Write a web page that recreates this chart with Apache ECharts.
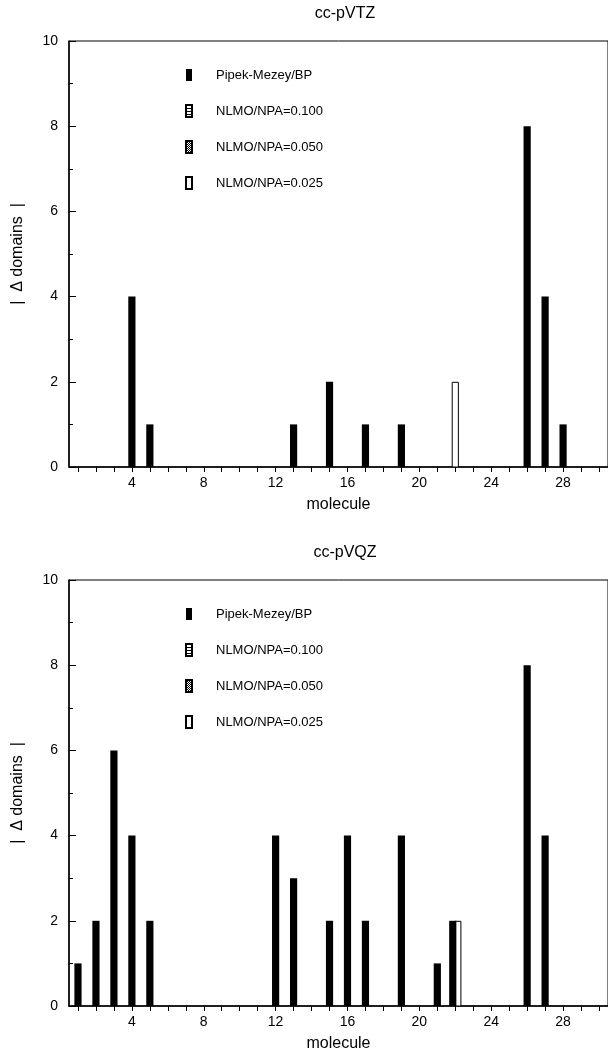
<!DOCTYPE html>
<html>
<head>
<meta charset="utf-8">
<script src="https://cdn.jsdelivr.net/npm/echarts@6/dist/echarts.min.js"></script>
<style>
  html, body { margin: 0; padding: 0; background: #fff; }
  #chart { width: 608px; height: 1059px; }
</style>
</head>
<body>
<div id="chart"></div>
<script>
// molecule index along the x axis
const molecules = [1, 2, 3, 4, 5, 6, 7, 8, 9, 10, 11, 12, 13, 14, 15, 16, 17, 18, 19, 20, 21, 22, 23, 24, 25, 26, 27, 28, 29];

// |Δ domains| per molecule, cc-pVTZ
const tzPipek  = [0, 0, 0, 4, 1, 0, 0, 0, 0, 0, 0, 0, 1, 0, 2, 0, 1, 0, 1, 0, 0, 0, 0, 0, 0, 8, 4, 1, 0];
const tzNpa100 = [0, 0, 0, 0, 0, 0, 0, 0, 0, 0, 0, 0, 0, 0, 0, 0, 0, 0, 0, 0, 0, 0, 0, 0, 0, 0, 0, 0, 0];
const tzNpa050 = [0, 0, 0, 0, 0, 0, 0, 0, 0, 0, 0, 0, 0, 0, 0, 0, 0, 0, 0, 0, 0, 0, 0, 0, 0, 0, 0, 0, 0];
const tzNpa025 = [0, 0, 0, 0, 0, 0, 0, 0, 0, 0, 0, 0, 0, 0, 0, 0, 0, 0, 0, 0, 0, 2, 0, 0, 0, 0, 0, 0, 0];

// |Δ domains| per molecule, cc-pVQZ
const qzPipek  = [1, 2, 6, 4, 2, 0, 0, 0, 0, 0, 0, 4, 3, 0, 2, 4, 2, 0, 4, 0, 1, 2, 0, 0, 0, 8, 4, 0, 0];
const qzNpa100 = [0, 0, 0, 0, 0, 0, 0, 0, 0, 0, 0, 0, 0, 0, 0, 0, 0, 0, 0, 0, 0, 0, 0, 0, 0, 0, 0, 0, 0];
const qzNpa050 = [0, 0, 0, 0, 0, 0, 0, 0, 0, 0, 0, 0, 0, 0, 0, 0, 0, 0, 0, 0, 0, 0, 0, 0, 0, 0, 0, 0, 0];
const qzNpa025 = [0, 0, 0, 0, 0, 0, 0, 0, 0, 0, 0, 0, 0, 0, 0, 0, 0, 0, 0, 0, 0, 2, 0, 0, 0, 0, 0, 0, 0];

const seriesNames = ['Pipek-Mezey/BP', 'NLMO/NPA=0.100', 'NLMO/NPA=0.050', 'NLMO/NPA=0.025'];
const basisTitles = ['cc-pVTZ', 'cc-pVQZ'];
const xTickValues = [1, 2, 3, 4, 5, 6, 7, 8, 9, 10, 11, 12, 13, 14, 15, 16, 17, 18, 19, 20, 21, 22, 23, 24, 25, 26, 27, 28, 29, 30];
const xLabelValues = [4, 8, 12, 16, 20, 24, 28];

const groups = [
  [tzPipek, tzNpa100, tzNpa050, tzNpa025],
  [qzPipek, qzNpa100, qzNpa050, qzNpa025]
];

// fill patterns for the hatched series
function makePattern(kind) {
  const c = document.createElement('canvas');
  c.width = 2; c.height = kind === 'stripe' ? 3 : 2;
  const g = c.getContext('2d');
  g.fillStyle = '#fff';
  g.fillRect(0, 0, c.width, c.height);
  g.fillStyle = '#000';
  if (kind === 'stripe') {
    g.fillRect(0, 0, 2, 1);
  } else {
    g.fillRect(0, 0, 1, 1);
    g.fillRect(1, 1, 1, 1);
  }
  return { image: c, repeat: 'repeat' };
}

const seriesStyles = [
  { color: '#000', borderColor: '#000', borderWidth: 0 },
  { color: makePattern('stripe'), borderColor: '#000', borderWidth: 1 },
  { color: makePattern('dots'), borderColor: '#000', borderWidth: 1 },
  { color: '#fff', borderColor: '#000', borderWidth: 1 }
];

const BAR_UNITS = 0.4;

function barRenderer(gi, si) {
  return function (params, api) {
    const x = api.value(0);
    const y = api.value(1);
    const idx = molecules.indexOf(x);
    // bars sharing a molecule are shifted apart and overlap slightly
    const active = [];
    groups[gi].forEach((arr, k) => { if (arr[idx] > 0) active.push(k); });
    const slot = active.indexOf(si);
    const n = active.length;
    const w = api.size([BAR_UNITS, 0])[0];
    const shift = (slot - (n - 1) / 2) * 0.7 * w;
    const top = api.coord([x, y]);
    const base = api.coord([x, 0]);
    const lw = seriesStyles[si].borderWidth;
    return {
      type: 'rect',
      shape: {
        x: top[0] - w / 2 + shift + lw / 2,
        y: top[1] + lw / 2,
        width: w - lw,
        height: base[1] - top[1] - lw / 2
      },
      style: {
        fill: seriesStyles[si].color,
        stroke: lw ? '#000' : null,
        lineWidth: lw
      }
    };
  };
}

const gridTops = [41, 580];
const GRID_H = 426;
const FONT = '"Liberation Sans", Arial, sans-serif';

const option = {
  animation: false,
  backgroundColor: '#fff',
  textStyle: { fontFamily: FONT, color: '#000' },
  title: basisTitles.map((t, i) => ({
    text: t,
    left: 340,
    textAlign: 'center',
    top: gridTops[i] - 40,
    textStyle: { fontFamily: FONT, fontSize: 16, fontWeight: 'normal', color: '#000' }
  })),
  legend: gridTops.map((t, i) => ({
    data: seriesNames,
    orient: 'vertical',
    left: 185,
    top: t + 27,
    padding: 0,
    itemWidth: 6,
    itemHeight: 12,
    itemGap: 22,
    icon: 'rect',
    selectedMode: false,
    textStyle: { fontFamily: FONT, fontSize: 13, color: '#000', padding: [0, 0, 0, 19], lineHeight: 14 }
  })),
  grid: gridTops.map(t => ({
    left: 69,
    right: -7,
    top: t,
    height: GRID_H,
    show: true,
    borderColor: '#000',
    borderWidth: 1,
    backgroundColor: 'transparent'
  })),
  xAxis: gridTops.map((t, i) => ({
    type: 'value',
    gridIndex: i,
    min: 0.5,
    max: 30.5,
    name: 'molecule',
    nameLocation: 'middle',
    nameGap: 30,
    nameTextStyle: { fontFamily: FONT, fontSize: 16, color: '#000' },
    axisLine: { show: true, lineStyle: { color: '#000', width: 1.5 } },
    axisTick: { show: true, length: 5, lineStyle: { color: '#000' }, customValues: xTickValues },
    axisLabel: { fontFamily: FONT, fontSize: 14, color: '#000', margin: 9, customValues: xLabelValues },
    splitLine: { show: false }
  })),
  yAxis: gridTops.map((t, i) => ({
    type: 'value',
    gridIndex: i,
    min: 0,
    max: 10,
    interval: 2,
    name: '|  \u0394 domains  |',
    nameLocation: 'middle',
    nameGap: 43,
    nameTextStyle: { fontFamily: FONT, fontSize: 16, color: '#000' },
    axisLine: { show: true, lineStyle: { color: '#000', width: 1.5 } },
    axisTick: { show: true, inside: true, length: 7, lineStyle: { color: '#000' } },
    minorTick: { show: true, splitNumber: 2, length: 4, lineStyle: { color: '#000' } },
    axisLabel: { fontFamily: FONT, fontSize: 14, color: '#000', margin: 11 },
    splitLine: { show: false }
  })),
  series: []
};

groups.forEach((arrs, gi) => {
  arrs.forEach((arr, si) => {
    const data = [];
    molecules.forEach((m, k) => { if (arr[k] > 0) data.push([m, arr[k]]); });
    option.series.push({
      type: 'custom',
      name: seriesNames[si],
      xAxisIndex: gi,
      yAxisIndex: gi,
      z: si === 0 ? 4 : 3,
      clip: true,
      itemStyle: {
        color: seriesStyles[si].color,
        borderColor: '#000',
        borderWidth: seriesStyles[si].borderWidth
      },
      renderItem: barRenderer(gi, si),
      data: data
    });
  });
});

const chart = echarts.init(document.getElementById('chart'), null, { renderer: 'canvas' });
chart.setOption(option);
</script>
</body>
</html>
